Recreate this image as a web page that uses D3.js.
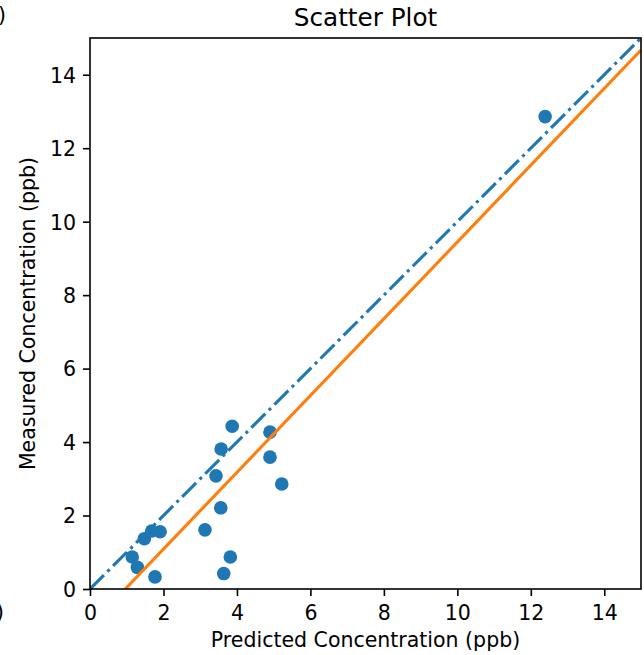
<!DOCTYPE html>
<html>
<head>
<meta charset="utf-8">
<script src="https://cdn.jsdelivr.net/npm/d3@7"></script>
<style>
  html, body { margin: 0; padding: 0; background: #fff; }
  svg { display: block; font-family: "DejaVu Sans", sans-serif; }
</style>
</head>
<body>
<svg id="chart" width="644" height="655"></svg>
<script>
// ---- data ----
const predicted = [12.39, 3.87, 4.90, 3.57, 4.90, 3.43, 5.22, 3.56, 3.13, 1.91, 1.68, 1.48, 1.15, 1.29, 1.77, 3.82, 3.64];
const measured  = [12.86, 4.43, 4.27, 3.81, 3.59, 3.08, 2.86, 2.21, 1.61, 1.56, 1.58, 1.37, 0.87, 0.59, 0.33, 0.87, 0.42];
const identityX = [0, 15];
const identityY = [0, 15];
const fitX = [0.96, 15];
const fitY = [0, 14.67];
const xTicks = [0, 2, 4, 6, 8, 10, 12, 14];
const yTicks = [0, 2, 4, 6, 8, 10, 12, 14];
const title = "Scatter Plot";
const xLabel = "Predicted Concentration (ppb)";
const yLabel = "Measured Concentration (ppb)";

// ---- layout ----
const svg = d3.select("#chart");
const L = 90, R = 641, T = 38, B = 589;
const x = d3.scaleLinear().domain([0, 15]).range([L, R]);
const y = d3.scaleLinear().domain([0, 15]).range([B, T]);
const blue = "#1f77b4", orange = "#ff7f0e";
const tickFont = 20.5;

svg.append("defs").append("clipPath").attr("id", "clip")
  .append("rect").attr("x", L).attr("y", T).attr("width", R - L).attr("height", B - T);

const plot = svg.append("g").attr("clip-path", "url(#clip)");

// points (zorder below lines like matplotlib)
plot.selectAll("circle").data(predicted.map((p, i) => [p, measured[i]]))
  .enter().append("circle")
  .attr("cx", d => x(d[0])).attr("cy", d => y(d[1]))
  .attr("r", 6.8).attr("fill", blue);

const line = d3.line().x(d => x(d[0])).y(d => y(d[1]));
plot.append("path")
  .attr("d", line(identityX.map((v, i) => [v, identityY[i]])))
  .attr("fill", "none").attr("stroke", blue).attr("stroke-width", 3.1)
  .attr("stroke-dasharray", "19.7,4.9,3.1,4.9");
plot.append("path")
  .attr("d", line(fitX.map((v, i) => [v, fitY[i]])))
  .attr("fill", "none").attr("stroke", orange).attr("stroke-width", 3.1);

// axes
const xAxis = d3.axisBottom(x).tickValues(xTicks).tickSizeOuter(0).tickSize(7).tickPadding(7);
const yAxis = d3.axisLeft(y).tickValues(yTicks).tickSizeOuter(0).tickSize(7).tickPadding(7);

const gx = svg.append("g").attr("transform", `translate(0,${B})`).call(xAxis);
const gy = svg.append("g").attr("transform", `translate(${L},0)`).call(yAxis);
[gx, gy].forEach(g => {
  g.select(".domain").remove();
  g.selectAll(".tick line").attr("stroke", "#000").attr("stroke-width", 1.6);
  g.selectAll(".tick text").attr("fill", "#000")
    .style("font-size", tickFont + "px").style("font-family", "DejaVu Sans");
});
gx.selectAll(".tick text").attr("dy", null).attr("y", 31);
gy.selectAll(".tick text").attr("dy", "0.36em");

// frame
svg.append("rect").attr("x", L).attr("y", T).attr("width", R - L).attr("height", B - T)
  .attr("fill", "none").attr("stroke", "#000").attr("stroke-width", 1.6);

// labels
svg.append("text").attr("x", (L + R) / 2).attr("y", 26).attr("text-anchor", "middle")
  .style("font-size", "24.7px").attr("fill", "#000").text(title);
svg.append("text").attr("x", (L + R) / 2).attr("y", 647).attr("text-anchor", "middle")
  .style("font-size", tickFont + "px").attr("fill", "#000").text(xLabel);
svg.append("text").attr("transform", `translate(35,${(T + B) / 2}) rotate(-90)`)
  .attr("text-anchor", "middle")
  .style("font-size", tickFont + "px").attr("fill", "#000").text(yLabel);

// clipped fragments of neighbouring panel (cut off at the left edge, as in the reference)
svg.append("text").attr("x", 6).attr("y", 22).attr("text-anchor", "end")
  .style("font-size", "20.5px").attr("fill", "#000").text(")");
svg.append("text").attr("x", 4).attr("y", 619).attr("text-anchor", "end")
  .style("font-size", "20.5px").attr("fill", "#000").text(")");
</script>
</body>
</html>
